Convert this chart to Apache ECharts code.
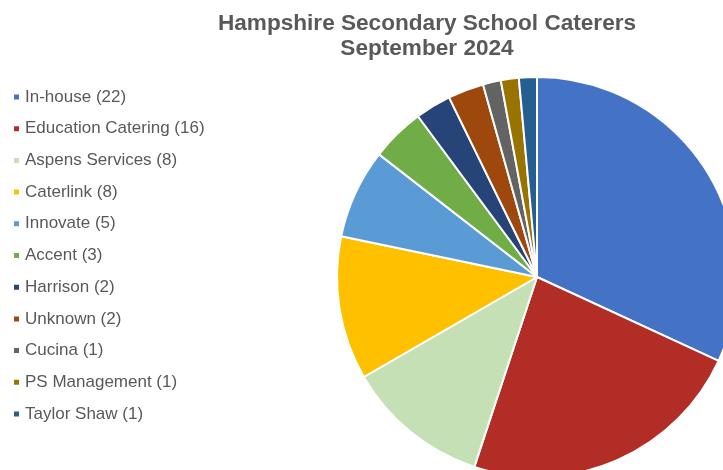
<!DOCTYPE html>
<html>
<head>
<meta charset="utf-8">
<script src="https://cdn.jsdelivr.net/npm/echarts@6/dist/echarts.min.js"></script>
<style>
  html, body { margin: 0; padding: 0; background: #fff; }
  #chart { width: 723px; height: 470px; }
</style>
</head>
<body>
<div id="chart"></div>
<script>
// caterers and school counts
const names = [
  "In-house", "Education Catering", "Aspens Services", "Caterlink", "Innovate",
  "Accent", "Harrison", "Unknown", "Cucina", "PS Management", "Taylor Shaw"
];
const counts = [22, 16, 8, 8, 5, 3, 2, 2, 1, 1, 1];
const colors = [
  "#4472C4", "#B22D25", "#C5E0B4", "#FFC000", "#5B9BD5",
  "#70AD47", "#264478", "#9E480E", "#636363", "#997300", "#255E91"
];

const chart = echarts.init(document.getElementById("chart"));
const countOf = {};
names.forEach((n, i) => { countOf[n] = counts[i]; });

const option = {
  animation: false,
  color: colors,
  title: {
    text: "Hampshire Secondary School Caterers\nSeptember 2024",
    left: 422,
    top: 6,
    textAlign: "center",
    textStyle: {
      fontFamily: "Liberation Sans",
      fontSize: 22.6,
      fontWeight: "bold",
      color: "#595959",
      lineHeight: 25
    }
  },
  legend: {
    orient: "vertical",
    left: 7,
    top: 83,
    icon: "rect",
    itemWidth: 7,
    itemHeight: 7,
    itemGap: 13.7,
    formatter: (n) => `${n} (${countOf[n]})`,
    textStyle: {
      fontFamily: "Liberation Sans",
      fontSize: 17,
      color: "#595959",
      lineHeight: 18
    }
  },
  series: [
    {
      type: "pie",
      center: [537, 277],
      radius: 200,
      startAngle: 90,
      clockwise: true,
      label: { show: false },
      labelLine: { show: false },
      itemStyle: { borderColor: "#fff", borderWidth: 2 },
      emphasis: { disabled: true },
      data: names.map((n, i) => ({ name: n, value: counts[i] }))
    }
  ]
};
chart.setOption(option);
</script>
</body>
</html>
